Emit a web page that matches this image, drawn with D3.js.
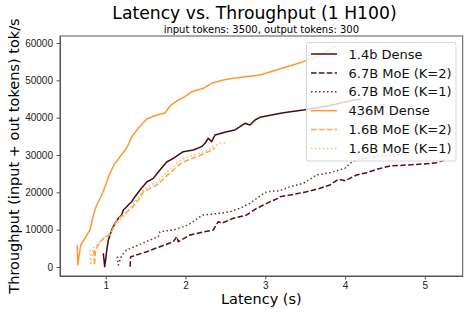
<!DOCTYPE html>
<html>

<head>
  <meta charset="utf-8">
  <style>
    body {
      margin: 0;
      background: white;
      font-family: "DejaVu Sans", sans-serif;
    }

    .tick text {
      font-size: 10px;
      fill: #222;
    }

    .tick line,
    .domain {
      stroke: #555;
    }

    .series {
      fill: none;
      stroke-width: 1.5px;
      stroke-linejoin: round;
    }
  </style>
</head>

<body>
  <div class="chart"></div>

  <script src="https://cdn.jsdelivr.net/npm/d3@7"></script>

  <script>
    // setup
    let outerW = 468, outerH = 314;
    let margin = { top: 36, right: 5.3, bottom: 38, left: 60 },
      width = outerW - margin.left - margin.right,
      height = outerH - margin.top - margin.bottom;

    // axis limits and ticks
    let xLimits = [0.427, 5.474];
    let yLimits = [-2411, 61875];
    let xTicks = [1, 2, 3, 4, 5];
    let yTicks = [0, 10000, 20000, 30000, 40000, 50000, 60000];

    // [latency (s), throughput (tok/s)]
    let dense14b = [[0.970, 3670], [0.987, 80], [1.004, 2760], [1.013, 4550], [1.033, 7230], [1.054, 8570],
      [1.075, 9910], [1.095, 10800], [1.117, 11710], [1.158, 13050], [1.200, 13930], [1.221, 15270],
      [1.263, 16150], [1.283, 16610], [1.305, 17060], [1.326, 17490], [1.367, 18830], [1.430, 20630],
      [1.514, 22770], [1.596, 23760], [1.680, 25980], [1.764, 28130], [1.847, 29120], [1.972, 30890],
      [2.098, 31340], [2.203, 32230], [2.244, 33140], [2.286, 34480], [2.328, 33570], [2.370, 35360],
      [2.516, 36240], [2.620, 36700], [2.683, 37580], [2.744, 38490], [2.808, 38040], [2.871, 39380],
      [2.933, 40100], [3.226, 41330], [3.476, 42060], [3.800, 43200], [4.060, 44500], [4.200, 45000]];

    let moe67bK2 = [[1.305, 80], [1.313, 2760], [1.346, 2950], [1.514, 4100], [1.680, 5440], [1.847, 6780],
      [1.890, 8120], [1.910, 6780], [2.056, 8570], [2.182, 9190], [2.348, 9910], [2.411, 12140],
      [2.454, 11710], [2.599, 13050], [2.767, 13930], [2.892, 15720], [2.934, 16150], [3.059, 17490],
      [3.163, 18400], [3.184, 18830], [3.310, 19290], [3.519, 20170], [3.685, 21080], [3.811, 21970],
      [3.915, 23490], [3.999, 23120], [4.145, 24650], [4.271, 25260], [4.396, 26170], [4.563, 27060],
      [4.772, 27320], [4.980, 27590], [5.148, 27940], [5.252, 28660]];

    let moe67bK1 = [[1.145, 2760], [1.158, 540], [1.179, 1880], [1.200, 3080], [1.263, 4550], [1.409, 5890],
      [1.555, 7230], [1.659, 8120], [1.680, 9460], [1.847, 9910], [2.035, 11250], [2.182, 13470],
      [2.223, 13930], [2.432, 14390], [2.558, 14810], [2.683, 15720], [2.808, 17060], [2.934, 19020],
      [3.018, 20170], [3.184, 20440], [3.310, 21510], [3.476, 22420], [3.644, 24650], [3.811, 25260],
      [3.999, 26440], [4.061, 27780], [4.145, 28660], [4.350, 29470], [4.780, 30270]];

    let dense436m = [[0.644, 5890], [0.649, 540], [0.687, 5890], [0.741, 7770], [0.803, 9910], [0.845, 13930],
      [0.887, 16610], [0.950, 19290], [0.991, 21510], [1.054, 25180], [1.117, 27860], [1.150, 28600],
      [1.179, 29550], [1.263, 31880], [1.326, 34900], [1.409, 37240], [1.514, 39650], [1.639, 40720],
      [1.743, 41250], [1.806, 43130], [1.910, 44740], [1.994, 45620], [2.078, 46960], [2.223, 47870],
      [2.328, 49210], [2.474, 50090], [2.599, 50550], [2.934, 51430], [3.476, 55000], [3.685, 56790],
      [3.873, 59010]];

    let moe16bK2 = [[0.853, 4550], [0.859, 540], [0.872, 4550], [0.929, 6700], [0.991, 8040], [1.054, 8570],
      [1.095, 10450], [1.138, 12590], [1.200, 13660], [1.263, 14730], [1.326, 15720], [1.409, 17950],
      [1.471, 20090], [1.555, 21080], [1.639, 21970], [1.722, 23570], [1.806, 25180], [1.890, 26920],
      [1.972, 28130], [2.098, 29200], [2.223, 30270], [2.307, 31070], [2.370, 31880]];

    let moe16bK1 = [[0.803, 4550], [0.812, 540], [0.845, 5090], [0.907, 6160], [0.970, 7770], [1.054, 8970],
      [1.117, 11250], [1.179, 12590], [1.263, 14470], [1.326, 16340], [1.409, 18750], [1.471, 20630],
      [1.555, 21830], [1.639, 22770], [1.722, 24380], [1.806, 26250], [1.890, 27780], [1.972, 28930],
      [2.098, 30000], [2.223, 30810], [2.307, 31610], [2.348, 32280], [2.432, 33140], [2.516, 33220]];

    let seriesNames = ["1.4b Dense", "6.7B MoE (K=2)", "6.7B MoE (K=1)",
      "436M Dense", "1.6B MoE (K=2)", "1.6B MoE (K=1)"];
    let seriesData = [dense14b, moe67bK2, moe67bK1, dense436m, moe16bK2, moe16bK1];
    let seriesColors = ["#4c0b10", "#5c0a12", "#7a2c2c", "#ff9933", "#ffa347", "#ffb464"];
    let seriesDash = ["none", "5.5,2.4", "1.5,2.5", "none", "5.5,2.4", "1.5,2.5"];

    let svg = d3.select(".chart").append("svg")
      .attr("width", outerW)
      .attr("height", outerH);

    let g = svg.append("g")
      .attr("transform", "translate(" + margin.left + "," + margin.top + ")");

    let x = d3.scaleLinear().domain(xLimits).range([0, width]);
    let y = d3.scaleLinear().domain(yLimits).range([height, 0]);

    // axes
    g.append("g")
      .attr("transform", "translate(0," + height + ")")
      .call(d3.axisBottom(x).tickValues(xTicks).tickFormat(d3.format("d"))
        .tickSize(3.5).tickPadding(2).tickSizeOuter(0));
    g.append("g")
      .call(d3.axisLeft(y).tickValues(yTicks).tickFormat(d3.format("d"))
        .tickSize(3.5).tickPadding(3.5).tickSizeOuter(0));

    // box around plot
    g.append("rect")
      .attr("width", width)
      .attr("height", height)
      .attr("fill", "none")
      .attr("stroke", "#555")
      .attr("stroke-width", 1);

    // lines
    let line = d3.line()
      .x(function (d) { return x(d[0]); })
      .y(function (d) { return y(d[1]); });

    seriesData.forEach(function (data, i) {
      g.append("path")
        .datum(data)
        .attr("class", "series")
        .attr("stroke", seriesColors[i])
        .attr("stroke-dasharray", seriesDash[i])
        .attr("d", line);
    });

    // legend
    let legend = svg.append("g")
      .attr("transform", "translate(306.5,42.5)");
    legend.append("rect")
      .attr("width", 149.5)
      .attr("height", 118.5)
      .attr("rx", 2.5)
      .attr("fill", "white")
      .attr("fill-opacity", 0.8)
      .attr("stroke", "#d6d6d6")
      .attr("stroke-width", 1);
    seriesNames.forEach(function (name, i) {
      let row = legend.append("g")
        .attr("transform", "translate(0," + (11.5 + i * 18.9) + ")");
      row.append("line")
        .attr("x1", 4.5)
        .attr("x2", 30.5)
        .attr("stroke", seriesColors[i])
        .attr("stroke-width", 1.5)
        .attr("stroke-dasharray", seriesDash[i]);
      row.append("text")
        .attr("x", 42)
        .attr("dy", "0.36em")
        .style("font-size", "13px")
        .attr("fill", "#111")
        .text(name);
    });

    // titles
    svg.append("text")
      .attr("x", 254.5)
      .attr("y", 18.5)
      .style("text-anchor", "middle")
      .style("font-size", "17.2px")
      .text("Latency vs. Throughput (1 H100)");

    svg.append("text")
      .attr("x", margin.left + width / 2)
      .attr("y", 32.5)
      .style("text-anchor", "middle")
      .style("font-size", "10px")
      .text("input tokens: 3500, output tokens: 300");

    svg.append("text")
      .attr("x", margin.left + width / 2)
      .attr("y", 304)
      .style("text-anchor", "middle")
      .style("font-size", "14.5px")
      .text("Latency (s)");

    svg.append("text")
      .attr("transform", "translate(19," + (margin.top + height / 2) + ") rotate(-90)")
      .style("text-anchor", "middle")
      .style("font-size", "14.5px")
      .text("Throughput (input + out tokens) tok/s");
  </script>
</body>

</html>
